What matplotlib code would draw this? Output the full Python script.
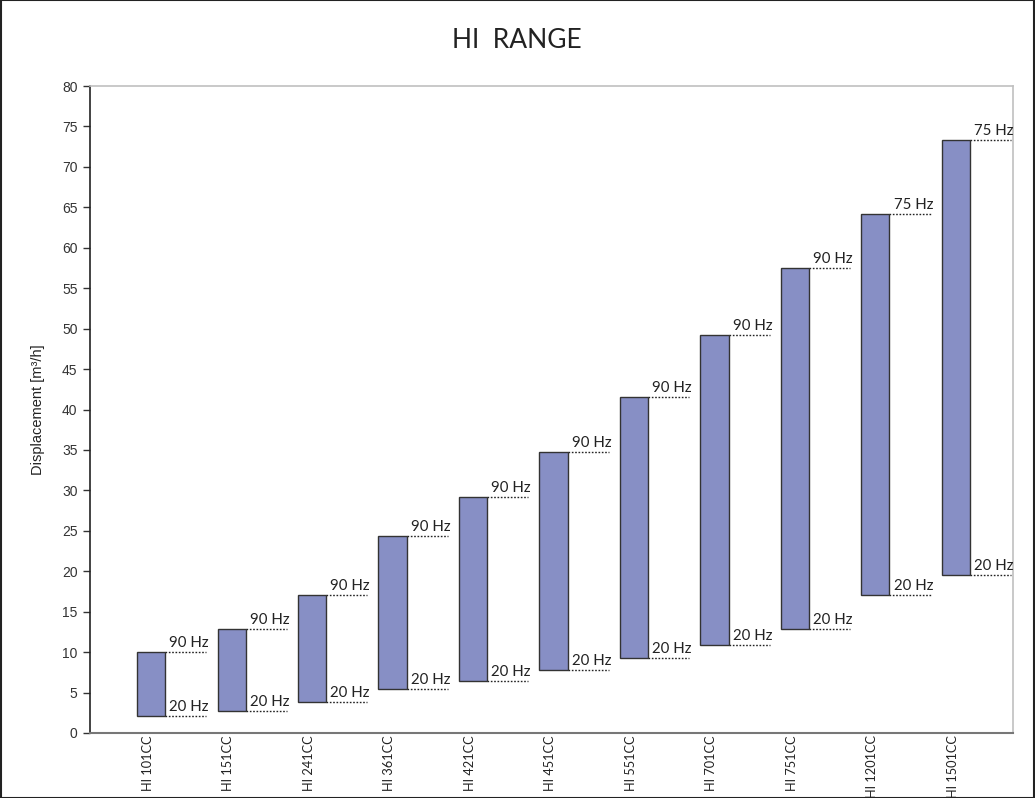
import matplotlib
matplotlib.use("Agg")
import matplotlib.pyplot as plt
from matplotlib.patches import Rectangle

models = ["HI 101CC", "HI 151CC", "HI 241CC", "HI 361CC", "HI 421CC", "HI 451CC",
          "HI 551CC", "HI 701CC", "HI 751CC", "HI 1201CC", "HI 1501CC"]
low_vals = [2.1, 2.7, 3.8, 5.4, 6.4, 7.8, 9.3, 10.9, 12.9, 17.1, 19.5]
high_vals = [10.0, 12.9, 17.1, 24.4, 29.2, 34.7, 41.5, 49.2, 57.5, 64.2, 73.3]
low_labels = ["20 Hz"] * 11
high_labels = ["90 Hz"] * 9 + ["75 Hz", "75 Hz"]

HUM = ["Lato", "DejaVu Sans"]
ARIAL = ["Liberation Sans", "DejaVu Sans"]

fig = plt.figure(figsize=(10.35, 7.98), dpi=100)
ax = fig.add_axes([90/1035, 1 - 733/798, (1013-90)/1035, (733-86)/798])

bar_w = 0.35
line_len = 0.51
x = list(range(len(models)))
heights = [h - l for h, l in zip(high_vals, low_vals)]
ax.bar(x, heights, bottom=low_vals, width=bar_w, color="#878FC5",
       edgecolor="#333333", linewidth=1.0, zorder=3)

for i in x:
    xr = i + bar_w / 2
    for val, lab in ((low_vals[i], low_labels[i]), (high_vals[i], high_labels[i])):
        ax.plot([xr, xr + line_len], [val, val], color="#222222", linestyle=(0, (1.2, 1.2)),
                linewidth=1.0, zorder=2)
        ax.text(xr + 0.05, val + 0.25, lab, fontsize=10.8, color="#222222",
                ha="left", va="bottom", family=HUM)

ax.set_xlim(-0.76, 10.71)
ax.set_ylim(0, 80)
ax.set_yticks(range(0, 81, 5))
ax.tick_params(axis="y", labelsize=10, length=5, width=1, color="#333333", labelcolor="#333333", pad=4)
for t in ax.get_yticklabels():
    t.set_family(ARIAL)
ax.set_xticks([i - 0.04 for i in x])
ax.set_xticklabels(models, rotation=90, fontsize=9.2, color="#222222", family=HUM)
ax.tick_params(axis="x", length=0, pad=1.5)

ax.spines["left"].set_color("#222222")
ax.spines["left"].set_linewidth(1.2)
ax.spines["bottom"].set_color("#777777")
ax.spines["bottom"].set_linewidth(1.5)
ax.spines["top"].set_color("#c0c0c0")
ax.spines["right"].set_color("#c0c0c0")
ax.spines["top"].set_linewidth(1.2)
ax.spines["right"].set_linewidth(1.2)

ax.set_ylabel("Displacement [m³/h]", fontsize=10.5, color="#222222", labelpad=12, family=ARIAL)
fig.text(517/1035, 1 - 40/798, "HI  RANGE", ha="center", va="center", fontsize=19,
         color="#222222", family=HUM)

fig.add_artist(Rectangle((0.0005, 0.0005), 0.999, 0.999, transform=fig.transFigure,
                         fill=False, edgecolor="#222222", linewidth=1.5))

fig.savefig("out.png", dpi=100)
